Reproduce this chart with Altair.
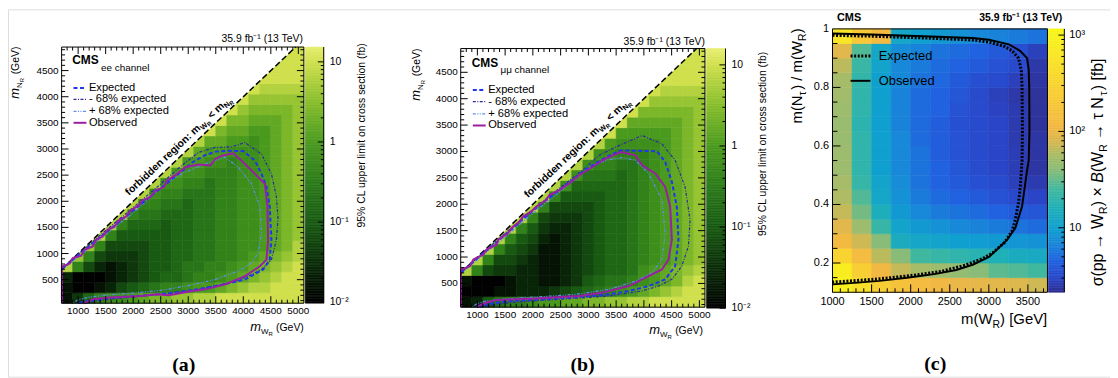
import altair as alt
import numpy as np
import pandas as pd

W, H = 1110, 370
SANS = "Liberation Sans"

# ---------------------------------------------------------------- data
# panels (a),(b): 95% CL upper limit, coded per cell as a level k with
# limit = 10**(-2 + 0.2 k) fb.  Rows: m_NR bins of 200 GeV from 50 GeV upward;
# columns: m_WR bins of 200 GeV from 700 GeV.  '.' = forbidden (m_NR > m_WR).
LEVEL_CHARS = "0123456789ABCDEFG"
WR_LO, NR_LO, BIN = 700, 50, 200
WR_DOM = [700, 5100]
NR_DOM = [50, 4950]

EE_ROWS = [
    "136899ABCCDDEEFFFFFFFF",
    "100124567889AABCDEEFFF",
    "200012345667889ABCDEFF",
    "E842123455677889ABCDEF",
    "FD843334556677889ABCDE",
    ".FD844445566778899ABCE",
    "..FE85555566778899ABCD",
    "...FE8666566778899ABCD",
    "....FE877666778899ABCD",
    ".....FE88776778899ABCD",
    "......FE9887778899ABCD",
    ".......FE998878899ABCD",
    "........FEA9988899ABCD",
    ".........FEAA99899ABCD",
    "..........FEBAA999ABCD",
    "...........FEBBAA9ABCD",
    "............FFCBBAABCD",
    ".............FFCCBBBCD",
    "..............FFDCCCCD",
    "...............FFDDDDD",
    "................FFEEEE",
    ".................FFFFF",
    "..................FFFF",
    "...................FFF",
    "....................FF",
]
MM_ROWS = [
    "1257889AABBCCDDEEFFFFF",
    "000112223456789ABCDEFF",
    "10001221123567789ABCEF",
    "E8433221123456679ABCDE",
    "FE8443211234566789ABCD",
    ".FE854311234566789ABCD",
    "..FE85421234566789ABCD",
    "...FE8532234566789ABCD",
    "....FE843334566789ABCD",
    ".....FE84444566789ABCD",
    "......FE8555566789ABCD",
    ".......FE966666789ABCD",
    "........FE97776789ABCD",
    ".........FE9887789ABCD",
    "..........FE998889ABCD",
    "...........FEA9999ABCD",
    "............FFAAAAABCD",
    ".............FFBBBBBCD",
    "..............FFCCCCCD",
    "...............FFDDDDD",
    "................FFEEEE",
    ".................FFFFF",
    "..................FFFF",
    "...................FFF",
    "....................FF",
]

# contours, (m_WR, m_NR) in GeV
EE_OBS_X = [705, 705, 724, 844, 904, 1055, 1115, 1265, 1326, 1445, 1535, 1656, 1746, 1867, 1957, 2107, 2166, 2318, 2408, 2558, 2617, 2798, 2949, 3189, 3400, 3490, 3610, 3820, 4031, 4271, 4391, 4439, 4451, 4421, 4301, 4031, 3670, 3310, 3068, 2648, 2408, 2166, 1566, 1265, 1145, 1100]
EE_OBS_Y = [55, 757, 757, 808, 915, 959, 1073, 1136, 1262, 1325, 1452, 1514, 1641, 1704, 1830, 1925, 2020, 2083, 2209, 2272, 2398, 2525, 2650, 2702, 2683, 2810, 2872, 2916, 2714, 2461, 2336, 1893, 1262, 883, 757, 567, 410, 315, 283, 202, 220, 188, 157, 126, 63, 50]
EE_EXP_X = [705, 900, 1100, 1300, 1500, 1700, 1900, 2100, 2300, 2500, 2700, 2900, 3100, 3300, 3500, 3700, 4000, 4211, 4331, 4421, 4481, 4511, 4481, 4361, 4031, 3700, 3400, 3100, 2800, 2500, 2200, 1900, 1600, 1300, 1100, 1000]
EE_EXP_Y = [700, 880, 1060, 1230, 1400, 1570, 1740, 1910, 2080, 2250, 2420, 2590, 2760, 2880, 2950, 2965, 2960, 2777, 2525, 2272, 1893, 1262, 883, 694, 505, 420, 360, 305, 262, 225, 200, 178, 150, 112, 78, 50]
EE_M68_X = [705, 1000, 1500, 2000, 2500, 2900, 3189, 3490, 3790, 4030, 4331, 4511, 4600, 4631, 4601, 4511, 4331, 4090, 3790, 3189, 2700, 2200, 1700, 1300, 1150]
EE_M68_Y = [700, 985, 1440, 1880, 2330, 2700, 2935, 3030, 3043, 3124, 2903, 2524, 2100, 1673, 1263, 883, 694, 568, 455, 315, 240, 190, 140, 90, 50]
EE_P68_X = [705, 1000, 1500, 2000, 2287, 2588, 2888, 3189, 3430, 3670, 3910, 4150, 4301, 4331, 4270, 4150, 3910, 3490, 3000, 2500, 2000, 1500, 1200, 1000, 900]
EE_P68_Y = [690, 930, 1360, 1780, 2050, 2330, 2530, 2665, 2765, 2840, 2650, 2336, 1894, 1389, 1010, 820, 662, 505, 385, 295, 245, 205, 165, 115, 50]

MM_OBS_X = [705, 705, 867, 927, 1106, 1165, 1344, 1374, 1553, 1612, 1761, 1821, 1970, 2059, 2238, 2297, 2476, 2655, 2834, 3073, 3311, 3580, 3848, 3968, 4206, 4384, 4474, 4504, 4444, 4325, 4027, 3728, 3252, 2834, 2059, 1344, 1165, 986]
MM_OBS_Y = [55, 764, 827, 952, 1046, 1140, 1234, 1328, 1454, 1548, 1672, 1766, 1860, 1954, 2080, 2174, 2268, 2394, 2550, 2706, 2864, 2988, 2926, 2738, 2582, 2330, 1954, 1328, 952, 764, 608, 450, 326, 263, 213, 187, 138, 55]
MM_EXP_X = [705, 1000, 1500, 2000, 2500, 3000, 3300, 3580, 4236, 4384, 4504, 4593, 4623, 4563, 4384, 4086, 3728, 3371, 3073, 2179, 1582, 1165, 986]
MM_EXP_Y = [700, 975, 1420, 1880, 2290, 2690, 2880, 3020, 3004, 2802, 2426, 1954, 1328, 827, 576, 450, 356, 294, 263, 199, 168, 105, 50]
MM_M68_X = [705, 1000, 1500, 2000, 2500, 2900, 3192, 3490, 3968, 4325, 4563, 4742, 4832, 4802, 4683, 4504, 4265, 3968, 3371, 2775, 2179, 1582, 1165, 1050]
MM_M68_Y = [705, 990, 1450, 1900, 2320, 2650, 2926, 3083, 3303, 3146, 2832, 2330, 1704, 1203, 827, 577, 451, 357, 263, 219, 181, 137, 74, 50]
MM_P68_X = [705, 1000, 1500, 2000, 2500, 3073, 3371, 3610, 3849, 4087, 4325, 4385, 4325, 4146, 3849, 3371, 2775, 2179, 1582, 1165, 1000, 900]
MM_P68_Y = [690, 950, 1380, 1830, 2250, 2738, 2845, 2883, 2832, 2580, 2080, 1454, 952, 702, 545, 388, 294, 250, 212, 168, 120, 50]

# panel (c): tau channel, limit in fb; rows bottom (0.10-0.15) to top (0.95-1.00)
TAU_WR_EDGES = [1000, 1250, 1500, 1750, 2000, 2250, 2500, 2750, 3000, 3250, 3500, 3750]
TAU_R_EDGES = [0.10, 0.15, 0.20, 0.25, 0.30, 0.35, 0.40, 0.45, 0.50, 0.55, 0.60, 0.65, 0.70, 0.75, 0.80, 0.85, 0.90, 0.95, 1.00]
TAU_LIMIT = [
    [900, 500, 250, 160, 130, 110, 100, 95, 90, 85, 75],
    [800, 250, 110, 70, 55, 50, 45, 40, 30, 28, 25],
    [300, 130, 65, 40, 25, 22, 20, 18, 16, 14, 13],
    [120, 75, 40, 14, 12, 11, 10, 9.5, 9, 8.5, 8],
    [90, 50, 22, 11, 9, 8, 7, 6.5, 6, 5.5, 5],
    [70, 35, 15, 9, 7, 6, 5.5, 5, 4.5, 4, 3.8],
    [60, 28, 12, 8, 6, 5, 4.5, 4, 3.6, 3.2, 3],
    [55, 22, 11, 7.5, 5.5, 4.5, 4, 3.5, 3.2, 2.8, 2.6],
    [50, 20, 10, 7, 5.5, 4.5, 3.8, 3.3, 3, 2.7, 2.4],
    [50, 20, 10, 7, 5.5, 4.2, 3.6, 3.2, 3, 2.7, 2.4],
    [48, 20, 10, 7, 5, 4.2, 3.6, 3.2, 3, 2.6, 2.4],
    [48, 19, 10, 6.5, 5, 4.2, 3.5, 3.2, 3, 2.6, 2.3],
    [50, 20, 10, 6.5, 5, 4.5, 3.6, 3.2, 2.9, 2.6, 2.3],
    [52, 20, 10, 6.5, 5, 4.5, 3.8, 3.2, 2.8, 2.5, 2.3],
    [55, 21, 10, 7, 5.5, 4.8, 4, 3.5, 3.2, 2.8, 2.4],
    [65, 23, 11, 7, 6, 5, 4.5, 4, 3.6, 3.2, 2.5],
    [90, 28, 12, 7.5, 6.5, 5.5, 5, 4.5, 4, 3.5, 2.8],
    [600, 200, 120, 12, 10, 9, 8, 7, 6.5, 6, 5.5],
]
TAU_OBS_X = [1000, 1500, 2164, 2794, 3000, 3257, 3400, 3489, 3510, 3517, 3520, 3510, 3489, 3460, 3425, 3340, 3236, 3100, 3003, 2800, 2584, 2300, 1953, 1600, 1323, 1000]
TAU_OBS_Y = [0.984, 0.981, 0.975, 0.969, 0.963, 0.947, 0.925, 0.90, 0.86, 0.80, 0.65, 0.55, 0.517, 0.46, 0.393, 0.32, 0.28, 0.245, 0.221, 0.195, 0.176, 0.162, 0.150, 0.139, 0.133, 0.127]
TAU_EXP_X = [1000, 1500, 2164, 2794, 3000, 3200, 3299, 3380, 3415, 3425, 3430, 3425, 3405, 3383, 3340, 3299, 3200, 3050, 2920, 2700, 2400, 2000, 1600, 1300, 1000]
TAU_EXP_Y = [0.978, 0.975, 0.969, 0.962, 0.955, 0.94, 0.925, 0.90, 0.86, 0.80, 0.65, 0.55, 0.47, 0.41, 0.35, 0.31, 0.27, 0.235, 0.215, 0.193, 0.172, 0.157, 0.146, 0.140, 0.135]

# axis tick values and labels
AB_XTICKS = [1000, 1500, 2000, 2500, 3000, 3500, 4000, 4500, 5000]
AB_XLABELS = ["1000", "1500", "2000", "2500", "3000", "3500", "4000", "4500", "5000"]
AB_YTICKS = [500, 1000, 1500, 2000, 2500, 3000, 3500, 4000, 4500]
AB_YLABELS = ["500", "1000", "1500", "2000", "2500", "3000", "3500", "4000", "4500"]
C_XTICKS = [1000, 1500, 2000, 2500, 3000, 3500]
C_XLABELS = ["1000", "1500", "2000", "2500", "3000", "3500"]
C_YTICKS = [0.2, 0.4, 0.6, 0.8, 1.0]
C_YLABELS = ["0.2", "0.4", "0.6", "0.8", "1"]
GREEN_MAJ = [0.01, 0.1, 1, 10]
GREEN_LABELS = ["10\u207b\u00b2", "10\u207b\u00b9", "1", "10"]
PAR_MAJ = [10, 100, 1000]
PAR_LABELS = ["10", "10\u00b2", "10\u00b3"]

# colour palettes
GREEN_DOM = [0.0097, 0.03, 0.1, 0.3, 1, 3, 10, 15.9]
GREEN_RNG = ["#000000", "#0b2c09", "#185a12", "#2a7a19", "#4a9a1e", "#84bc2a", "#d0e04c", "#e8ee72"]
PAR_DOM = [2.14, 3, 4.5, 7, 10, 16, 25, 40, 60, 80, 110, 200, 500, 1160]
PAR_RNG = ["#2f2f8f", "#2a45c8", "#2062e0", "#1888d8", "#10a0d0", "#20b0b8", "#40b8a0",
           "#88bc78", "#b0bc64", "#d8b850", "#f2b844", "#f8c838", "#f8e02a", "#f8f818"]

# ---------------------------------------------------------------- helpers
def lin(dom, rng):
    return alt.Scale(domain=dom, range=rng, nice=False, zero=False)


def limit_grid(rows):
    recs = []
    for j, row in enumerate(rows):
        y0 = NR_LO + BIN * j
        for i, ch in enumerate(row):
            if ch == ".":
                continue
            x0 = WR_LO + BIN * i
            recs.append({"x": x0, "x2": x0 + BIN, "y": y0, "y2": min(y0 + BIN, NR_DOM[1]),
                         "v": 10 ** (-2 + 0.2 * LEVEL_CHARS.index(ch))})
    return pd.DataFrame(recs)


def tau_grid():
    recs = []
    for j, row in enumerate(TAU_LIMIT):
        for i, v in enumerate(row):
            recs.append({"x": TAU_WR_EDGES[i], "x2": TAU_WR_EDGES[i + 1],
                         "y": TAU_R_EDGES[j], "y2": TAU_R_EDGES[j + 1], "v": v})
    return pd.DataFrame(recs)


def path(xs, ys):
    return pd.DataFrame({"x": xs, "y": ys, "o": list(range(len(xs)))})


def heat(df, xs, ys, cs):
    return alt.Chart(df).mark_rect(strokeWidth=0.6).encode(
        x=alt.X("x:Q", scale=xs, axis=None), x2="x2:Q",
        y=alt.Y("y:Q", scale=ys, axis=None), y2="y2:Q",
        color=alt.Color("v:Q", scale=cs, legend=None),
        stroke=alt.Stroke("v:Q", scale=cs, legend=None))


def line(df, xs, ys, color, width, dash=None):
    kw = dict(color=color, strokeWidth=width)
    if dash:
        kw["strokeDash"] = dash
    return alt.Chart(df).mark_line(**kw).encode(
        x=alt.X("x:Q", scale=xs, axis=None), y=alt.Y("y:Q", scale=ys, axis=None), order="o:Q")


def rules(df, xs, ys, color="black", width=1):
    return alt.Chart(df).mark_rule(color=color, strokeWidth=width).encode(
        x=alt.X("x:Q", scale=xs, axis=None), x2="x2:Q",
        y=alt.Y("y:Q", scale=ys, axis=None), y2="y2:Q")


def frame(xdom, ydom, xs, ys):
    df = pd.DataFrame({"x": [xdom[0]], "x2": [xdom[1]], "y": [ydom[0]], "y2": [ydom[1]]})
    return alt.Chart(df).mark_rect(fillOpacity=0, stroke="black", strokeWidth=1).encode(
        x=alt.X("x:Q", scale=xs, axis=None), x2="x2:Q",
        y=alt.Y("y:Q", scale=ys, axis=None), y2="y2:Q")


def xlabels(vals, labels, xs, ypix, size):
    df = pd.DataFrame({"v": vals, "t": labels})
    return alt.Chart(df).mark_text(align="center", baseline="top", fontSize=size, font=SANS,
                                   color="black").encode(
        x=alt.X("v:Q", scale=xs, axis=None), y=alt.value(ypix), text="t:N")


def ylabels(vals, labels, ys, xpix, size, align="right"):
    df = pd.DataFrame({"v": vals, "t": labels})
    return alt.Chart(df).mark_text(align=align, baseline="middle", fontSize=size, font=SANS,
                                   color="black").encode(
        y=alt.Y("v:Q", scale=ys, axis=None), x=alt.value(xpix), text="t:N")


def edge_ticks(xmaj, xmin, ymaj, ymin, xdom, ydom, lx, ly, sides):
    recs = []
    for vals, L in ((xmaj, ly[0]), (xmin, ly[1])):
        for v in vals:
            if "b" in sides:
                recs.append((v, v, ydom[0], ydom[0] + L))
            if "t" in sides:
                recs.append((v, v, ydom[1], ydom[1] - L))
    for vals, L in ((ymaj, lx[0]), (ymin, lx[1])):
        for v in vals:
            if "l" in sides:
                recs.append((xdom[0], xdom[0] + L, v, v))
            if "r" in sides:
                recs.append((xdom[1], xdom[1] - L, v, v))
    return pd.DataFrame(recs, columns=["x", "x2", "y", "y2"])


def gradient_df(lo, hi, n=160):
    e = np.logspace(np.log10(lo), np.log10(hi), n + 1)
    return pd.DataFrame({"x": 0.0, "x2": 1.0, "y": e[:-1], "y2": e[1:], "v": np.sqrt(e[:-1] * e[1:])})


def colorbar(lo, hi, xr, yr, cs, majors, labels, minors, lmaj, lmin, size, pad):
    xs = lin([0, 1], xr)
    ys = alt.Scale(type="log", domain=[lo, hi], range=yr, nice=False)
    grad = heat(gradient_df(lo, hi), xs, ys, cs)
    tk = pd.DataFrame([(1, 1 - lmaj, v, v) for v in majors] + [(1, 1 - lmin, v, v) for v in minors]
                      + [(1, 1, lo, hi)], columns=["x", "x2", "y", "y2"])
    return alt.layer(grad, rules(tk, xs, ys), ylabels(majors, labels, ys, xr[1] + pad, size, align="left"))


def T(s, x, y, size, weight="normal", style="normal", align="left", baseline="middle",
      angle=0, dx=0, dy=0, font=SANS, color="black"):
    return alt.Chart(pd.DataFrame({"t": [s]})).mark_text(
        align=align, baseline=baseline, angle=angle, dx=dx, dy=dy, fontSize=size,
        fontWeight=weight, fontStyle=style, font=font, color=color).encode(
        x=alt.value(x), y=alt.value(y), text="t:N")


def pieces(parts, x, y, angle=0, weight="normal", baseline="alphabetic"):
    return [T(s, x, y, size, weight=weight, style=style, baseline=baseline, angle=angle, dx=dx, dy=dy)
            for s, dx, dy, size, style in parts]


def legend_sample(x1, x2, y, color, width, dash=None):
    kw = dict(color=color, strokeWidth=width)
    if dash:
        kw["strokeDash"] = dash
    return alt.Chart(pd.DataFrame({"k": [0]})).mark_rule(**kw).encode(
        x=alt.value(x1), x2=alt.value(x2), y=alt.value(y))


GREEN = alt.Scale(type="log", domain=GREEN_DOM, range=GREEN_RNG, clamp=True, interpolate="rgb")
PARULA = alt.Scale(type="log", domain=PAR_DOM, range=PAR_RNG, clamp=True, interpolate="rgb")

EXP_STYLE = ("#1f35f2", 2, [4, 2.5])
M68_STYLE = ("#2b2b9e", 1.2, [3, 1.5, 1, 1.5])
P68_STYLE = ("#5c8ff0", 1.2, [3, 1.5, 1, 1.5, 1, 1.5])
OBS_STYLE = ("#9b1fa5", 2, None)

AB_XMIN = [v for v in range(800, 5100, 100) if v % 500]
AB_YMIN = [v for v in range(100, 4950, 100) if v % 500]
GREEN_MIN = [m * d for d in (0.01, 0.1, 1) for m in range(2, 10)]


def mass_panel(rows, xr, yr, curves, px_x, px_y):
    xs = lin(WR_DOM, xr)
    ys = lin(NR_DOM, yr)
    layers = [heat(limit_grid(rows), xs, ys, GREEN)]
    white = pd.DataFrame({"x": [700, 4950], "y": [700, 4950], "y2": [4950, 4950]})
    layers.append(alt.Chart(white).mark_area(color="white").encode(
        x=alt.X("x:Q", scale=xs, axis=None), y=alt.Y("y:Q", scale=ys, axis=None, stack=None), y2="y2:Q"))
    layers.append(line(path([700, 4950], [700, 4950]), xs, ys, "black", 1.5, [6, 3]))
    for (cx, cy), (col, wd, dash) in curves:
        layers.append(line(path(cx, cy), xs, ys, col, wd, dash))
    tk = edge_ticks(AB_XTICKS, AB_XMIN, AB_YTICKS, AB_YMIN, WR_DOM, NR_DOM,
                    (7 / px_x, 3.5 / px_x), (7 / px_y, 3.5 / px_y), "btlr")
    layers.append(rules(tk, xs, ys))
    layers.append(frame(WR_DOM, NR_DOM, xs, ys))
    layers.append(xlabels(AB_XTICKS, AB_XLABELS, xs, yr[0] + 3, 10))
    layers.append(ylabels(AB_YTICKS, AB_YLABELS, ys, xr[0] - 3, 10))
    return alt.layer(*layers)


# ---------------------------------------------------------------- panel (a)
A_XR, A_YR = [54, 298], [296, 38]
panel_a = mass_panel(EE_ROWS, A_XR, A_YR,
                     [((EE_P68_X, EE_P68_Y), P68_STYLE), ((EE_M68_X, EE_M68_Y), M68_STYLE),
                      ((EE_EXP_X, EE_EXP_Y), EXP_STYLE), ((EE_OBS_X, EE_OBS_Y), OBS_STYLE)],
                     244 / 4400, 258 / 4900)
cbar_a = colorbar(0.0097, 15.3, [299.5, 318], A_YR, GREEN, GREEN_MAJ, GREEN_LABELS, GREEN_MIN,
                  0.32, 0.16, 10.5, 6)

# ---------------------------------------------------------------- panel (b)
B_XR, B_YR = [456, 702], [300, 39.5]
panel_b = mass_panel(MM_ROWS, B_XR, B_YR,
                     [((MM_P68_X, MM_P68_Y), P68_STYLE), ((MM_M68_X, MM_M68_Y), M68_STYLE),
                      ((MM_EXP_X, MM_EXP_Y), EXP_STYLE), ((MM_OBS_X, MM_OBS_Y), OBS_STYLE)],
                     246 / 4400, 260.5 / 4900)
cbar_b = colorbar(0.01, 15.9, [703.7, 722.7], [301, 39.5], GREEN, GREEN_MAJ, GREEN_LABELS, GREEN_MIN,
                  0.32, 0.16, 10.5, 6)

# ---------------------------------------------------------------- panel (c)
C_XDOM, C_YDOM = [1000, 3750], [0.1, 1.0]
C_XR, C_YR = [830.5, 1047], [285, 19.7]
xc, yc = lin(C_XDOM, C_XR), lin(C_YDOM, C_YR)
c_layers = [heat(tau_grid(), xc, yc, PARULA)]
c_layers.append(line(path(TAU_EXP_X, TAU_EXP_Y), xc, yc, "black", 3, [2, 1.6]))
c_layers.append(line(path(TAU_OBS_X, TAU_OBS_Y), xc, yc, "black", 2))
c_px_x, c_px_y = 216.5 / 2750, 265.3 / 0.9
C_XMIN = [v for v in range(1100, 3750, 100) if v % 500]
C_YMIN = [0.15, 0.25, 0.3, 0.35, 0.45, 0.5, 0.55, 0.65, 0.7, 0.75, 0.85, 0.9, 0.95]
c_layers.append(rules(edge_ticks(C_XTICKS, C_XMIN, C_YTICKS[:-1], C_YMIN, C_XDOM, C_YDOM,
                                 (8 / c_px_x, 5 / c_px_x), (8 / c_px_y, 4 / c_px_y), "bl"), xc, yc))
c_layers.append(frame(C_XDOM, C_YDOM, xc, yc))
c_layers.append(xlabels(C_XTICKS, C_XLABELS, xc, C_YR[0] + 4, 11))
c_layers.append(ylabels(C_YTICKS, C_YLABELS, yc, C_XR[0] - 3.5, 11))
panel_c = alt.layer(*c_layers)
PAR_MIN = [m * d for d in (1, 10, 100) for m in range(2, 10) if 2.14 < m * d < 1160]
cbar_c = colorbar(2.14, 1160, [1048, 1064], C_YR, PARULA, PAR_MAJ, PAR_LABELS, PAR_MIN,
                  0.375, 0.19, 11, 5)

# ---------------------------------------------------------------- texts
texts = []


def mass_texts(x0, y0, chan, lumi_x, lumi_y, leg_x, leg_y, forb, xt, yt, cbt):
    out = [T("CMS", x0, y0, 12, weight="bold"),
           T(chan[0], chan[1], chan[2], 10),
           T("35.9 fb\u207b\u00b9 (13 TeV)", lumi_x, lumi_y, 10.5, align="right")]
    labels = ["Expected", "- 68% expected", "+ 68% expected", "Observed"]
    styles = [EXP_STYLE, M68_STYLE, P68_STYLE, OBS_STYLE]
    for k, (lab, (col, wd, dash)) in enumerate(zip(labels, styles)):
        yy = leg_y[k]
        out.append(legend_sample(leg_x - 15.5, leg_x - 2.5, yy, col, wd, dash))
        out.append(T(lab, leg_x, yy, 11.2))
    out += pieces([("forbidden region: m", 0, 0, 10.5, "normal"), ("W", 99.5, 2.5, 7.5, "normal"),
                   ("R", 106.6, 4, 6, "normal"), ("< m", 113.4, 0, 10.5, "normal"),
                   ("N", 131.8, 2.5, 7.5, "normal"), ("R", 137.2, 4, 6, "normal")],
                  forb[0], forb[1], angle=317, weight="bold")
    out += pieces([("m", 0, 0, 13, "italic"), ("W", 10.8, 3, 8, "normal"), ("R", 18.4, 5, 6, "normal"),
                   ("(GeV)", 26, 0, 10.5, "normal")], xt[0], xt[1])
    out += pieces([("m", 0, 0, 13, "italic"), ("N", 10.8, 3, 8, "normal"), ("R", 16.6, 5, 6, "normal"),
                   ("(GeV)", 24.5, 0, 10.5, "normal")], yt[0], yt[1], angle=270)
    out.append(T("95% CL upper limit on cross section (fb)", cbt[0], cbt[1], 10.5, align="center", angle=270))
    return out


texts += mass_texts(64.7, 51, ("ee channel", 93.7, 58.7), 297, 30, 81.5, [79.3, 90.7, 102.7, 114.3],
                    (122, 188), (244, 324), (11, 90), (357, 127))
texts += mass_texts(467, 54.3, ("\u03bc\u03bc channel", 496, 61.3), 702, 33, 483.7, [81.3, 93, 105.3, 117],
                    (523.7, 190.3), (646, 327.5), (415, 92), (760, 135.5))

# panel (c) texts
texts += [T("CMS", 835, 9, 11, weight="bold"),
          T("35.9 fb\u207b\u00b9 (13 TeV)", 1062, 9, 10.5, weight="bold", align="right"),
          legend_sample(848.7, 868.7, 47, "black", 3, [2, 1.6]),
          T("Expected", 877, 47, 13),
          legend_sample(848.7, 868.7, 72, "black", 2),
          T("Observed", 877, 72, 13)]
texts += pieces([("m(W", 0, 0, 15, "normal"), ("R", 31.7, 4, 10.5, "normal"),
                 (") [GeV]", 39.3, 0, 15, "normal")], 960, 317)
texts += pieces([("m(N", 0, 0, 15, "normal"), ("\u03c4", 28.3, 4, 10.5, "normal"),
                 (") / m(W", 34, 0, 15, "normal"), ("R", 83.2, 4, 10.5, "normal"),
                 (")", 90.8, 0, 15, "normal")], 800, 115, angle=270)
texts += pieces([("\u03c3(pp \u2192 W", 0, 0, 16, "normal"), ("R", 72.7, 4, 11, "normal"),
                 (") \u00d7", 80.6, 0, 16, "normal"), ("B", 104.2, 0, 16, "italic"),
                 ("(W", 114.9, 0, 16, "normal"), ("R", 135.3, 4, 11, "normal"),
                 ("\u2192 \u03c4 N", 147.6, 0, 16, "normal"), ("\u03c4", 192, 4, 11, "normal"),
                 (") [fb]", 197.5, 0, 16, "normal")], 1103, 279, angle=270)

# sub-figure labels
for lab, x, y in (("(a)", 177, 358.7), ("(b)", 578.7, 358), ("(c)", 934, 357)):
    texts.append(T(lab, x, y, 20, weight="bold", align="center", font="Liberation Serif"))

chart = alt.layer(panel_a, cbar_a, panel_b, cbar_b, panel_c, cbar_c, *texts).resolve_scale(
    x="independent", y="independent", color="independent", stroke="independent"
).properties(
    width=W, height=H, autosize=alt.AutoSizeParams(type="none"), padding=0
).configure_view(stroke=None).configure(font=SANS, background="white")

chart.save("out.html", embed_options={"renderer": "svg", "actions": False})
